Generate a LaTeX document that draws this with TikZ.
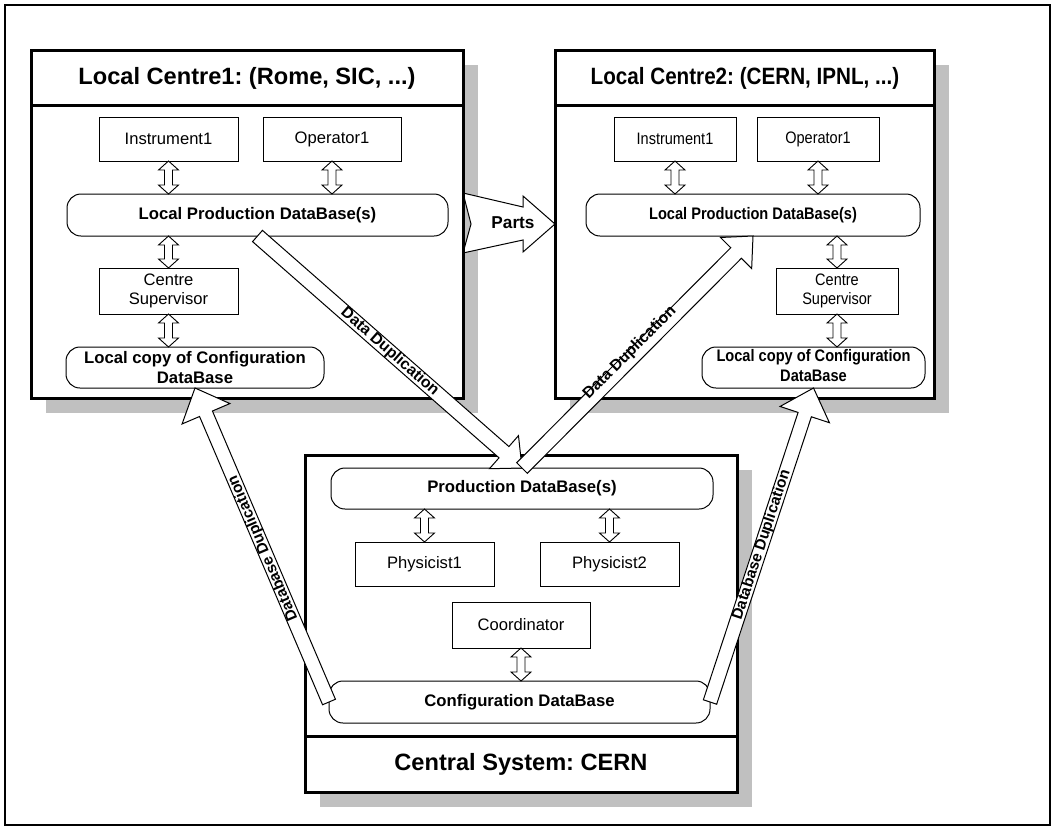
\documentclass[tikz,border=0pt]{standalone}
\usepackage{fontspec}
\setmainfont{Liberation Sans}
\usetikzlibrary{calc}
\definecolor{shadowgray}{RGB}{192,192,192}
\pgfdeclarelayer{bg}\pgfdeclarelayer{mid}
\pgfsetlayers{bg,mid,main}
\frenchspacing
\newcommand{\sq}[1]{\scalebox{0.875}[1]{#1}}
\newcommand{\blockarr}[5]{%
  \coordinate (ba-a) at (#1); \coordinate (ba-b) at (#2);
  \coordinate (ba-c) at ($(ba-b)!#5!(ba-a)$);
  \draw[bigarrow] ($(ba-a)!#3!90:(ba-b)$) -- ($(ba-c)!#3!90:(ba-b)$) -- ($(ba-c)!#4!90:(ba-b)$) -- (ba-b)
     -- ($(ba-c)!#4!-90:(ba-b)$) -- ($(ba-c)!#3!-90:(ba-b)$) -- ($(ba-a)!#3!-90:(ba-b)$) -- cycle;}
\newcommand{\dblarr}[2]{%
  \coordinate (da-a) at (#1); \coordinate (da-b) at (#2);
  \coordinate (da-p) at ($(da-a)!9pt!(da-b)$);
  \coordinate (da-q) at ($(da-b)!9pt!(da-a)$);
  \draw[dblarrow] (da-a) -- ($(da-p)!10pt!90:(da-b)$) -- ($(da-p)!4pt!90:(da-b)$) -- ($(da-q)!4pt!90:(da-b)$)
     -- ($(da-q)!10pt!90:(da-b)$) -- (da-b) -- ($(da-q)!10pt!-90:(da-b)$) -- ($(da-q)!4pt!-90:(da-b)$)
     -- ($(da-p)!4pt!-90:(da-b)$) -- ($(da-p)!10pt!-90:(da-b)$) -- cycle;}
\tikzset{
  bigbox/.style={draw, line width=3pt, fill=white, inner sep=0pt, outer sep=0pt},
  sbox/.style={draw, line width=1pt, fill=white, inner sep=0pt, outer sep=0pt, align=center,
     font=\fontsize{16.6}{19.5}\selectfont},
  rbox/.style={sbox, rounded corners=14pt, font=\fontsize{16.7}{19.5}\selectfont\bfseries},
  headtxt/.style={font=\fontsize{23.6}{28}\selectfont\bfseries, inner sep=0pt},
  lbl/.style={font=\fontsize{15.8}{18}\selectfont\bfseries, inner sep=0pt},
  lbltwo/.style={font=\fontsize{15.4}{18}\selectfont\bfseries, inner sep=0pt},
  bigarrow/.style={draw, line width=1pt, fill=white, line join=miter},
  dblarrow/.style={draw, line width=0.9pt, fill=white, line join=miter},
}
\begin{document}
\begin{tikzpicture}[x=1pt,y=-1pt]
\useasboundingbox (0,0) rectangle (1056,830);
\begin{pgfonlayer}{bg}
\fill[white] (0,0) rectangle (1056,830);
\end{pgfonlayer}
\draw[line width=1.5pt] (5,5) rectangle (1050,825);

% ---------- Local Centre 1
\node[bigbox, minimum width=432pt, minimum height=348pt] (lc1) at (247,224) {};
\draw[line width=3pt] ([yshift=-55pt]lc1.north west) -- ([yshift=-55pt]lc1.north east);
\node[headtxt] (lc1h) at (247,78) {Local Centre1: (Rome, SIC, ...)};
\node[sbox, minimum width=139pt, minimum height=44pt] (inst1) at (168.5,139) {Instrument1};
\node[sbox, minimum width=138pt, minimum height=44pt] (op1) at (332,139) {Operator1};
\node[rbox, minimum width=381pt, minimum height=42pt] (lpdb1) at (257.5,215) {Local Production DataBase(s)};
\node[sbox, minimum width=139pt, minimum height=46pt] (cs1) at (168.5,291) {Centre\\Supervisor};
\node[rbox, minimum width=258pt, minimum height=41pt] (copy1) at (195,367.5) {Local copy of Configuration\\DataBase};
\dblarr{inst1.south}{inst1.south |- lpdb1.north}
\dblarr{op1.south}{op1.south |- lpdb1.north}
\dblarr{cs1.north |- lpdb1.south}{cs1.north}
\dblarr{cs1.south}{cs1.south |- copy1.north}

% ---------- Local Centre 2
\node[bigbox, minimum width=379pt, minimum height=348pt] (lc2) at (744.5,224) {};
\draw[line width=3pt] ([yshift=-55pt]lc2.north west) -- ([yshift=-55pt]lc2.north east);
\node[headtxt] (lc2h) at (745,78) {\sq{Local Centre2: (CERN, IPNL, ...)}};
\node[sbox, minimum width=122pt, minimum height=44pt] (inst2) at (675,139) {\sq{Instrument1}};
\node[sbox, minimum width=122pt, minimum height=44pt] (op2) at (818,139) {\sq{Operator1}};
\node[rbox, minimum width=334pt, minimum height=42pt] (lpdb2) at (753,215) {\sq{Local Production DataBase(s)}};
\node[sbox, minimum width=122pt, minimum height=46pt] (cs2) at (837,291) {\sq{\begin{tabular}{@{}c@{}}Centre\\Supervisor\end{tabular}}};
\node[rbox, minimum width=223pt, minimum height=41pt] (copy2) at (813.5,367.5) {\sq{\begin{tabular}{@{}c@{}}Local copy of Configuration\\DataBase\end{tabular}}};
\dblarr{inst2.south}{inst2.south |- lpdb2.north}
\dblarr{op2.south}{op2.south |- lpdb2.north}
\dblarr{cs2.north |- lpdb2.south}{cs2.north}
\dblarr{cs2.south}{cs2.south |- copy2.north}

% ---------- Central system
\node[bigbox, minimum width=432pt, minimum height=337pt] (cen) at (521,623.5) {};
\draw[line width=3pt] ([yshift=56pt]cen.south west) -- ([yshift=56pt]cen.south east);
\node[headtxt] (cenh) at (521,764) {Central System: CERN};
\node[rbox, minimum width=382pt, minimum height=41pt] (pdb) at (522,488.5) {Production DataBase(s)};
\node[sbox, minimum width=139pt, minimum height=44pt] (ph1) at (424.5,564) {Physicist1};
\node[sbox, minimum width=139pt, minimum height=44pt] (ph2) at (609.5,564) {Physicist2};
\node[sbox, minimum width=138pt, minimum height=46pt] (coord) at (521,625) {Coordinator};
\node[rbox, minimum width=381pt, minimum height=42pt] (cfg) at (519.5,702) {Configuration DataBase};
\dblarr{ph1.north |- pdb.south}{ph1.north}
\dblarr{ph2.north |- pdb.south}{ph2.north}
\dblarr{coord.south}{coord.south |- cfg.north}

% ---------- shadows
\begin{pgfonlayer}{bg}
\foreach \n in {lc1,lc2,cen}
  \fill[shadowgray] ([shift={(15pt,-15pt)}]\n.north west) rectangle ([shift={(15pt,-15pt)}]\n.south east);
\end{pgfonlayer}

% ---------- Parts arrow
\begin{pgfonlayer}{mid}
\draw[bigarrow] ([yshift=31pt]lc1.east) -- ([xshift=8pt]lc1.east) -- ([yshift=-29pt]lc1.east)
  -- ([shift={(-32pt,-16pt)}]lc2.west) -- ([shift={(-32pt,-28pt)}]lc2.west) -- (lc2.west)
  -- ([shift={(-32pt,28pt)}]lc2.west) -- ([shift={(-32pt,17pt)}]lc2.west) -- cycle;
\end{pgfonlayer}
\node[font=\fontsize{17.2}{20}\selectfont\bfseries, inner sep=0pt] (parts) at (513,223) {Parts};

% ---------- duplication arrows
\blockarr{lpdb1.south}{pdb.north}{7.5pt}{22pt}{24pt}
\blockarr{pdb.north}{lpdb2.south}{7.5pt}{22pt}{24pt}
\blockarr{cfg.west}{copy1.south}{7pt}{26pt}{28pt}
\blockarr{cfg.east}{copy2.south}{7pt}{26pt}{28pt}
\node[lbl, rotate=-41.3] (dd1) at ($(lpdb1.south)!0.5!(pdb.north)$) {Data Duplication};
\node[lbl, rotate=45.1] (dd2) at ($(pdb.north)!0.48!(lpdb2.south)+(-3,-4)$) {Data Duplication};
\node[lbltwo, rotate=113.1] (db1) at ($(cfg.west)!0.49!(copy1.south)$) {Database Duplication};
\node[lbltwo, rotate=71.8] (db2) at ($(cfg.east)!0.5!(copy2.south)$) {Database Duplication};
\end{tikzpicture}
\end{document}
